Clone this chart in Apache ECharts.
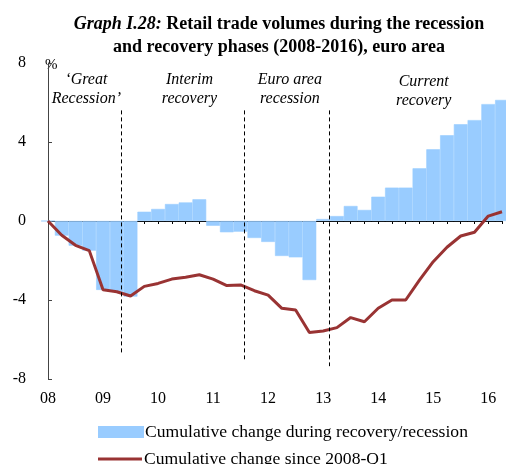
<!DOCTYPE html>
<html>
<head>
<meta charset="utf-8">
<script src="https://cdn.jsdelivr.net/npm/echarts@6/dist/echarts.min.js"></script>
<style>
  html, body { margin: 0; padding: 0; background: #fff; }
  #main { width: 506px; height: 464px; }
</style>
</head>
<body>
<div id="main"></div>
<script>
// quarters 2008-Q1 .. 2016-Q2
const quarters = [
  '2008Q1', '2008Q2', '2008Q3', '2008Q4', '2009Q1', '2009Q2', '2009Q3', '2009Q4',
  '2010Q1', '2010Q2', '2010Q3', '2010Q4', '2011Q1', '2011Q2', '2011Q3', '2011Q4',
  '2012Q1', '2012Q2', '2012Q3', '2012Q4', '2013Q1', '2013Q2', '2013Q3', '2013Q4',
  '2014Q1', '2014Q2', '2014Q3', '2014Q4', '2015Q1', '2015Q2', '2015Q3', '2015Q4',
  '2016Q1', '2016Q2'
];
const yearLabels = ['08', '09', '10', '11', '12', '13', '14', '15', '16'];

// cumulative change during recovery/recession (bars)
const phaseChange = [
  0, -0.74, -1.25, -1.5, -3.49, -3.58, -3.83, 0.47,
  0.61, 0.86, 0.94, 1.1, -0.24, -0.57, -0.54, -0.86,
  -1.06, -1.77, -1.84, -2.99, 0.1, 0.25, 0.76, 0.56,
  1.23, 1.69, 1.69, 2.67, 3.63, 4.34, 4.9, 5.11,
  5.92, 6.13
];
// cumulative change since 2008-Q1 (line)
const sinceStart = [
  0, -0.72, -1.23, -1.5, -3.48, -3.58, -3.8, -3.31,
  -3.16, -2.94, -2.85, -2.72, -2.94, -3.27, -3.24, -3.53,
  -3.75, -4.42, -4.51, -5.65, -5.57, -5.4, -4.89, -5.1,
  -4.42, -4.0, -4.0, -2.99, -2.06, -1.33, -0.76, -0.57,
  0.25, 0.47
];

// phase separators (quarter index) and their vertical extent
const phaseBreaks = [5.36, 14.23, 20.42];
const breakTop = [5.6, 5.6, 5.6];
const breakBottom = [-6.7, -7.0, -7.35];

// phase captions
const phaseNames = ['\u2018Great\nRecession\u2019', 'Interim\nrecovery', 'Euro area\nrecession', 'Current\nrecovery'];
const phaseNameX = [2.79, 10.28, 17.58, 27.31];
const phaseNameY = [6.68, 6.68, 6.68, 6.55];

const serif = '"Liberation Serif", "Times New Roman", serif';
const barName = 'Cumulative change during recovery/recession';
const lineName = 'Cumulative change since 2008-Q1';

const chart = echarts.init(document.getElementById('main'));

const option = {
  animation: false,
  textStyle: { fontFamily: serif, color: '#000' },
  title: {
    left: 274,
    top: 8,
    textAlign: 'center',
    text: '{i|Graph I.28:} {b|Retail trade volumes during the recession}\n{b|and recovery phases (2008-2016), euro area}',
    textStyle: {
      fontFamily: serif,
      fontSize: 18,
      lineHeight: 23,
      rich: {
        i: { fontFamily: serif, fontSize: 18, fontStyle: 'italic', color: '#000', lineHeight: 23 },
        b: { fontFamily: serif, fontSize: 18, fontWeight: 'bold', color: '#000', lineHeight: 23 }
      }
    }
  },
  legend: [
    {
      left: 93,
      top: 418,
      itemWidth: 44,
      itemHeight: 10,
      textStyle: { fontFamily: serif, fontSize: 17.6, color: '#000', padding: [0, 0, 0, -3] },
      data: [{ name: barName, icon: 'rect' }]
    },
    {
      left: 93,
      top: 445,
      itemWidth: 44,
      itemHeight: 3,
      textStyle: { fontFamily: serif, fontSize: 17.6, color: '#000', padding: [0, 0, 0, -3] },
      data: [{ name: lineName, icon: 'rect', itemStyle: { color: '#993333' } }]
    }
  ],
  grid: { left: 48, right: 4, top: 63, bottom: 85 },
  xAxis: [
    {
      type: 'category',
      data: quarters,
      boundaryGap: false,
      axisLine: { show: false, onZero: false },
      axisTick: { show: false },
      axisLabel: {
        interval: 3,
        margin: 12,
        fontFamily: serif,
        fontSize: 16,
        color: '#000',
        formatter: function (v, i) { return yearLabels[i / 4]; }
      },
      splitLine: { show: false }
    },
    {
      type: 'category',
      data: quarters,
      boundaryGap: false,
      axisLine: { show: true, onZero: true, lineStyle: { color: '#000', width: 1 } },
      axisTick: { show: true, inside: true, length: 3, interval: 0, lineStyle: { color: '#000' } },
      axisLabel: { show: false },
      splitLine: { show: false }
    },
    { type: 'value', min: 0, max: quarters.length - 1, show: false }
  ],
  yAxis: {
    type: 'value',
    min: -8,
    max: 8,
    interval: 4,
    offset: 5,
    name: '%',
    nameLocation: 'end',
    nameGap: -2,
    nameTextStyle: { fontFamily: serif, fontSize: 15, color: '#000', align: 'left', verticalAlign: 'middle', padding: [0, 0, 0, -3] },
    axisLine: { show: true, lineStyle: { color: '#444', width: 1 } },
    axisTick: { show: true, inside: true, length: 4, lineStyle: { color: '#444' } },
    axisLabel: { margin: 17, fontFamily: serif, fontSize: 16, color: '#000' },
    splitLine: { show: false }
  },
  series: [
    {
      name: barName,
      type: 'bar',
      xAxisIndex: 0,
      data: phaseChange,
      barCategoryGap: '0%',
      barWidth: '100%',
      itemStyle: { color: '#99ccff', borderColor: '#99ccff', borderWidth: 0.6 },
      z: 1
    },
    {
      name: lineName,
      type: 'line',
      xAxisIndex: 0,
      data: sinceStart,
      symbol: 'none',
      lineStyle: { color: '#993333', width: 3 },
      itemStyle: { color: '#993333' },
      z: 3
    },
    {
      name: 'phases',
      type: 'line',
      xAxisIndex: 2,
      data: [],
      symbol: 'none',
      silent: true,
      markLine: {
        silent: true,
        symbol: 'none',
        label: { show: false },
        lineStyle: { color: '#000', type: [4, 3], width: 1 },
        data: phaseBreaks.map(function (x, i) {
          return [{ coord: [x, breakTop[i]] }, { coord: [x, breakBottom[i]] }];
        })
      },
      markPoint: {
        silent: true,
        symbolSize: 0,
        label: {
          show: true,
          position: 'inside',
          fontFamily: serif,
          fontStyle: 'italic',
          fontSize: 16,
          lineHeight: 19,
          color: '#000',
          align: 'center',
          formatter: function (p) { return p.name; }
        },
        data: phaseNames.map(function (n, i) {
          return { name: n, coord: [phaseNameX[i], phaseNameY[i]] };
        })
      },
      z: 4
    }
  ]
};

chart.setOption(option);
</script>
</body>
</html>
